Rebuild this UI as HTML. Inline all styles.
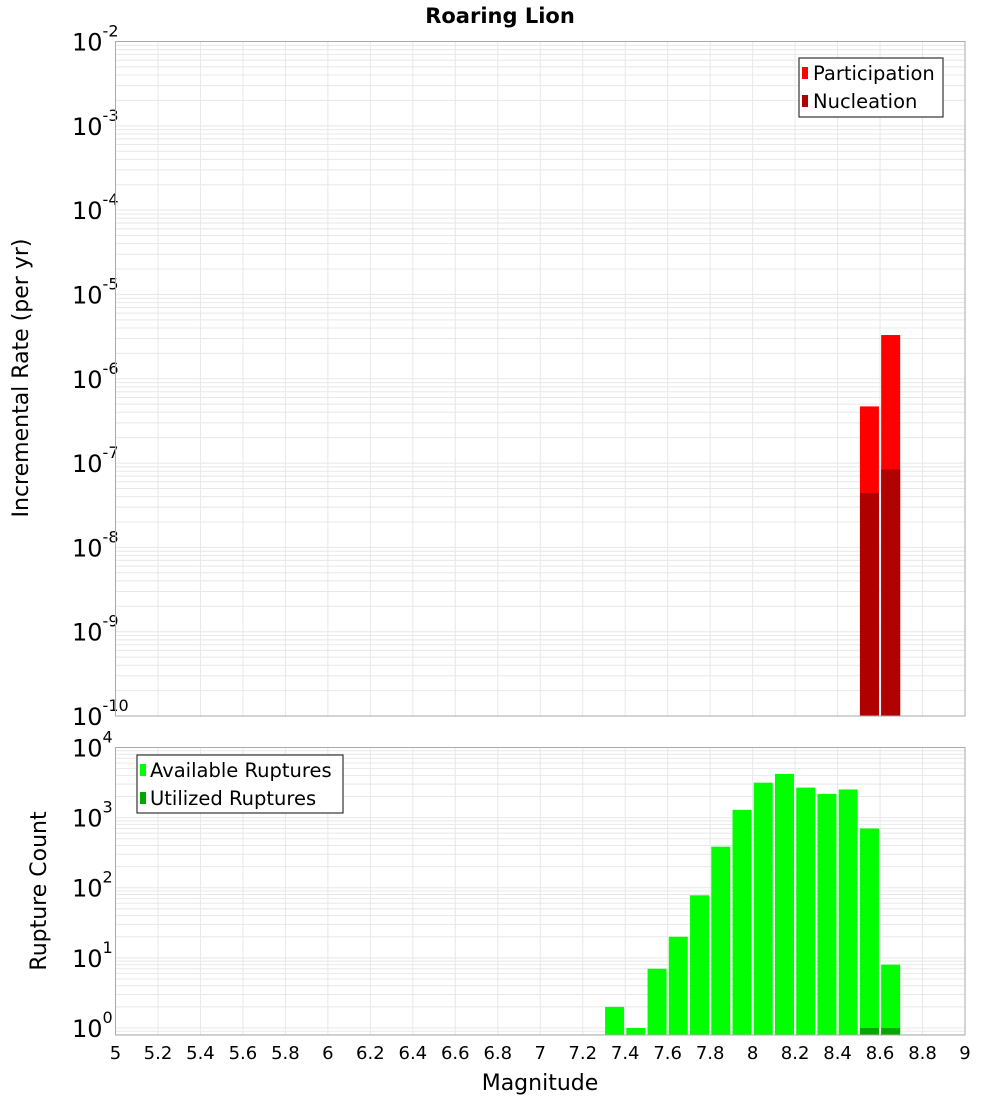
<!DOCTYPE html>
<html><head><meta charset="utf-8"><style>
body{margin:0;background:#fff;}
svg{display:block;font-family:"DejaVu Sans","Liberation Sans",sans-serif;}
</style></head><body>
<svg id="chart" width="1000" height="1100" xmlns="http://www.w3.org/2000/svg">
<text x="500" y="23" text-anchor="middle" font-size="21" font-weight="bold">Roaring Lion</text>
<g id="topPanel"></g><g id="botPanel"></g>
<text transform="translate(28,378) rotate(-90)" text-anchor="middle" font-size="22">Incremental Rate (per yr)</text>
<text transform="translate(46,891) rotate(-90)" text-anchor="middle" font-size="22">Rupture Count</text>
<text x="540" y="1090" text-anchor="middle" font-size="22">Magnitude</text>
<g>
<rect x="799" y="58" width="144" height="59" fill="#fff" stroke="#333" stroke-width="1.2"/>
<rect x="802" y="67" width="6" height="12" fill="#ff0000"/>
<text x="813" y="80" font-size="19.5">Participation</text>
<rect x="802" y="95" width="6" height="12" fill="#b00000"/>
<text x="813" y="108" font-size="19.5">Nucleation</text>
</g>
<g>
<rect x="137" y="755" width="206" height="58" fill="#fff" stroke="#333" stroke-width="1.2"/>
<rect x="140" y="764" width="6" height="12" fill="#00ff00"/>
<text x="150" y="777" font-size="19.5">Available Ruptures</text>
<rect x="140" y="792" width="6" height="12" fill="#00a800"/>
<text x="150" y="805" font-size="19.5">Utilized Ruptures</text>
</g>
</svg>
<script>
const mags=[7.35,7.45,7.55,7.65,7.75,7.85,7.95,8.05,8.15,8.25,8.35,8.45,8.55,8.65];
const available=[2,1,7,20,78,385,1290,3150,4200,2680,2180,2520,700,8];
const utilizedMags=[8.55,8.65];
const utilized=[1,1];
const rateMags=[8.55,8.65];
const participation=[4.7e-7,3.3e-6];
const nucleation=[4.4e-8,8.4e-8];
const xTicks=["5","5.2","5.4","5.6","5.8","6","6.2","6.4","6.6","6.8","7","7.2","7.4","7.6","7.8","8","8.2","8.4","8.6","8.8","9"];

const NS="http://www.w3.org/2000/svg";
const X0=115.5,X1=965;
function xs(m){return X0+(m-5)/4*(X1-X0);}
const T={y0:41.5,y1:716,lmin:-10,lmax:-2};
const B={y0:747.5,y1:1035,lmin:-0.1,lmax:4.0};
function ys(P,v){return P.y1-(Math.log10(v)-P.lmin)/(P.lmax-P.lmin)*(P.y1-P.y0);}
function el(parent,tag,attrs){const e=document.createElementNS(NS,tag);for(const k in attrs)e.setAttribute(k,attrs[k]);parent.appendChild(e);return e;}
function panel(g,P,name,dmin,dmax){
  for(let d=Math.floor(P.lmin);d<=P.lmax;d++){
    for(let k=1;k<10;k++){
      const v=k*Math.pow(10,d);const lv=Math.log10(v);
      if(lv<P.lmin-1e-9||lv>P.lmax+1e-9)continue;
      const y=ys(P,v);
      const ln=el(g,'line',{x1:X0,x2:X1,y1:y,y2:y,stroke:'#e8e8e8','stroke-width':1});
      
      
    }
  }
  for(let i=0;i<xTicks.length;i++){
    const x=xs(+xTicks[i]);
    const ln=el(g,'line',{x1:x,x2:x,y1:P.y0,y2:P.y1,stroke:'#e8e8e8','stroke-width':1});
    
    
  }
  for(let d=dmin;d<=dmax;d++){
    const y=ys(P,Math.pow(10,d));
    const t=el(g,'text',{x:72,y:y+9,'font-size':24});
    
    
    t.appendChild(document.createTextNode('10'));
    const s=el(t,'tspan',{dy:-14,'font-size':16});s.textContent=String(d);
  }
}
const topG=document.getElementById('topPanel'),botG=document.getElementById('botPanel');
panel(topG,T,'top',-10,-2);
panel(botG,B,'bottom',0,4);
const bw=19;
for(let i=0;i<rateMags.length;i++){
  const x=xs(rateMags[i])-bw/2;
  let y=ys(T,participation[i]);
  const r=el(topG,'rect',{x:x,y:y,width:bw,height:T.y1-y,fill:'#ff0000'});
  
  
  y=ys(T,nucleation[i]);
  const r2=el(topG,'rect',{x:x,y:y,width:bw,height:T.y1-y,fill:'#b00000'});
  
  
}
for(let i=0;i<mags.length;i++){
  const x=xs(mags[i])-bw/2;const y=ys(B,available[i]);
  const r=el(botG,'rect',{x:x,y:y,width:bw,height:B.y1-y,fill:'#00ff00'});
  
  
}
for(let i=0;i<utilizedMags.length;i++){
  const x=xs(utilizedMags[i])-bw/2;const y=ys(B,utilized[i]);
  const r=el(botG,'rect',{x:x,y:y,width:bw,height:B.y1-y,fill:'#00a800'});
  
  
}
const panels=[[topG,T],[botG,B]];
for(const pp of panels){
  const g=pp[0],P=pp[1];
  const f=el(g,'rect',{x:X0,y:P.y0,width:X1-X0,height:P.y1-P.y0,fill:'none',stroke:'#aaa','stroke-width':1});
  
  
}
for(let i=0;i<xTicks.length;i++){
  const t=el(botG,'text',{x:xs(+xTicks[i]),y:1059,'font-size':18,'text-anchor':'middle'});
  
  
  t.textContent=xTicks[i];
}
</script>
</body></html>
